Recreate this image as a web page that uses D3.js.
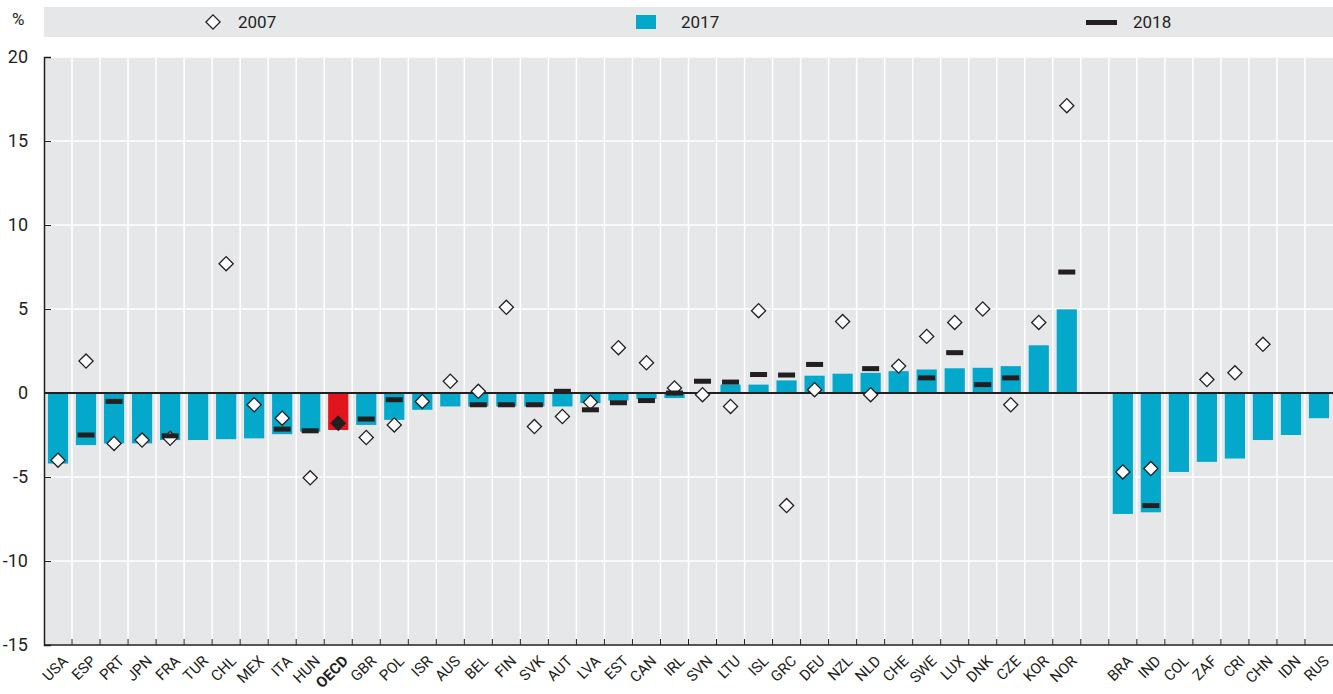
<!DOCTYPE html>
<html>
<head>
<meta charset="utf-8">
<script src="https://cdn.jsdelivr.net/npm/d3@7"></script>
<style>
  body { margin: 0; background: #fff; }
  text { font-family: "Liberation Sans Narrow", "Arial Narrow", Roboto, sans-serif; fill: #231f20; }
</style>
</head>
<body>
<div id="chart"></div>
<script>
// country order, "gap" is the empty slot between OECD members and partners
const countries = ["USA","ESP","PRT","JPN","FRA","TUR","CHL","MEX","ITA","HUN","OECD","GBR","POL","ISR","AUS","BEL","FIN","SVK","AUT","LVA","EST","CAN","IRL","SVN","LTU","ISL","GRC","DEU","NZL","NLD","CHE","SWE","LUX","DNK","CZE","KOR","NOR","gap","BRA","IND","COL","ZAF","CRI","CHN","IDN","RUS"]

const v2017 = [-4.2,-3.1,-3.0,-3.0,-2.8,-2.8,-2.75,-2.7,-2.45,-2.3,-2.2,-1.9,-1.6,-1.0,-0.8,-0.8,-0.8,-0.8,-0.8,-0.6,-0.45,-0.35,-0.3,0.0,0.5,0.5,0.75,1.03,1.15,1.2,1.3,1.4,1.47,1.5,1.6,2.84,4.98,null,-7.2,-7.1,-4.7,-4.1,-3.9,-2.8,-2.5,-1.5]

const v2007 = [-4.0,1.9,-3.0,-2.8,-2.7,null,7.7,-0.7,-1.5,-5.05,-1.8,-2.65,-1.9,-0.5,0.7,0.1,5.1,-2.0,-1.4,-0.55,2.7,1.8,0.3,-0.1,-0.8,4.9,-6.7,0.2,4.25,-0.1,1.6,3.37,4.2,5.0,-0.7,4.2,17.1,null,-4.7,-4.5,null,0.8,1.2,2.9,null,null]

const v2018 = [null,-2.5,-0.5,null,-2.55,null,null,null,-2.15,-2.25,null,-1.55,-0.4,null,null,-0.7,-0.7,-0.7,0.1,-1.0,-0.58,-0.45,0.0,0.7,0.65,1.1,1.07,1.7,null,1.45,null,0.9,2.4,0.5,0.9,null,7.2,null,null,-6.7,null,null,null,null,null,null]

const yTicks = [-15,-10,-5,0,5,10,15,20]

const teal = "#04a8cb", red = "#e2141d", dark = "#231f20", bg = "#e6e7e9"

const width = 1333, height = 694
const margin = { top: 57, right: 0, bottom: 49, left: 44 }
const innerW = width - margin.left - margin.right
const innerH = height - margin.top - margin.bottom

// square turned 45 degrees
const diamond = d3.symbol(d3.symbolSquare, 100)()

const svg = d3.select("#chart").append("svg")
    .attr("width", width)
    .attr("height", height)

// legend band
const legend = svg.append("g")
legend.append("rect")
    .attr("x", margin.left).attr("y", 7)
    .attr("width", innerW).attr("height", 30)
    .attr("fill", bg)

legend.append("path")
    .attr("d", diamond)
    .attr("transform", "translate(213,22) rotate(45)")
    .attr("fill", "#fff").attr("stroke", dark).attr("stroke-width", 1.3)
legend.append("text").attr("x", 238).attr("y", 28).attr("font-size", 17).text("2007")

legend.append("rect").attr("x", 636).attr("y", 15).attr("width", 20).attr("height", 14).attr("fill", teal)
legend.append("text").attr("x", 681).attr("y", 28).attr("font-size", 17).text("2017")

legend.append("rect").attr("x", 1086).attr("y", 20).attr("width", 31).attr("height", 5).attr("fill", dark)
legend.append("text").attr("x", 1133).attr("y", 28).attr("font-size", 17).text("2018")

const g = svg.append("g")
    .attr("transform", `translate(${margin.left}, ${margin.top})`)

const x = d3.scaleBand()
    .domain(countries)
    .range([0, innerW])
    .paddingInner(0.28)
    .paddingOuter(0.14)

const step = x.step()

const y = d3.scaleLinear()
    .domain([-15, 20])
    .range([innerH, 0])

// plot background
g.append("rect")
    .attr("width", innerW).attr("height", innerH)
    .attr("fill", bg)

// horizontal grid
g.selectAll("line.hgrid")
    .data(yTicks.filter(d => d !== 0 && d !== -15))
    .join("line")
    .attr("class", "hgrid")
    .attr("x1", 0).attr("x2", innerW)
    .attr("y1", d => y(d)).attr("y2", d => y(d))
    .attr("stroke", "#fff").attr("stroke-width", 1.5)

// vertical grid at slot boundaries
const bounds = d3.range(1, countries.length)
g.selectAll("line.vgrid")
    .data(bounds)
    .join("line")
    .attr("class", "vgrid")
    .attr("x1", i => i * step).attr("x2", i => i * step)
    .attr("y1", 0).attr("y2", innerH)
    .attr("stroke", "#fff").attr("stroke-width", 1.5)

const rows = countries.map((c, i) => ({ c, a: v2017[i], b: v2007[i], d: v2018[i] }))

// 2017 bars
g.selectAll("rect.bar")
    .data(rows.filter(r => r.a !== null))
    .join("rect")
    .attr("class", "bar")
    .attr("x", r => x(r.c))
    .attr("width", x.bandwidth())
    .attr("y", r => y(Math.max(0, r.a)))
    .attr("height", r => Math.abs(y(r.a) - y(0)))
    .attr("fill", r => r.c === "OECD" ? red : teal)

// zero line
g.append("line")
    .attr("x1", 0).attr("x2", innerW)
    .attr("y1", y(0)).attr("y2", y(0))
    .attr("stroke", dark).attr("stroke-width", 2)

// 2007 diamonds
g.selectAll("path.dia")
    .data(rows.filter(r => r.b !== null))
    .join("path")
    .attr("class", "dia")
    .attr("d", diamond)
    .attr("transform", r => `translate(${x(r.c) + x.bandwidth() / 2},${y(r.b)}) rotate(45)`)
    .attr("fill", r => r.c === "OECD" ? dark : "#fff")
    .attr("stroke", dark).attr("stroke-width", 1.3)

// 2018 dashes
g.selectAll("rect.dash")
    .data(rows.filter(r => r.d !== null))
    .join("rect")
    .attr("class", "dash")
    .attr("x", r => x(r.c) + x.bandwidth() / 2 - 8.5)
    .attr("y", r => y(r.d) - 2.5)
    .attr("width", 17).attr("height", 5)
    .attr("fill", dark)

// y axis
const yAxis = g.append("g")
    .call(d3.axisLeft(y).tickValues(yTicks).tickSize(-7).tickPadding(16).tickFormat(d => String(d)))
yAxis.select(".domain").attr("stroke", dark).attr("stroke-width", 1.5)
yAxis.selectAll(".tick line").attr("stroke", dark)
yAxis.selectAll(".tick text")
    .attr("font-size", 18)
    .attr("font-family", null)
    .attr("fill", dark)

svg.append("text").attr("x", 12).attr("y", 25).attr("font-size", 17).text("%")

// bottom axis line with small ticks at slot boundaries
g.append("line")
    .attr("x1", 0).attr("x2", innerW)
    .attr("y1", innerH).attr("y2", innerH)
    .attr("stroke", dark).attr("stroke-width", 1.5)
g.selectAll("line.xtick")
    .data(bounds)
    .join("line")
    .attr("class", "xtick")
    .attr("x1", i => i * step).attr("x2", i => i * step)
    .attr("y1", innerH - 6).attr("y2", innerH)
    .attr("stroke", dark)

// x labels, rotated on the wrapping group
const labs = g.selectAll("g.xlab")
    .data(countries.filter(c => c !== "gap"))
    .join("g")
    .attr("class", "xlab")
    .attr("transform", c => `translate(${x(c) + x.bandwidth() / 2 + 3},${innerH + 9}) rotate(-45)`)

labs.append("text")
    .attr("text-anchor", "end")
    .attr("dy", "0.75em")
    .attr("font-size", 15)
    .attr("font-weight", c => c === "OECD" ? "bold" : "normal")
    .text(c => c)
</script>
</body>
</html>
